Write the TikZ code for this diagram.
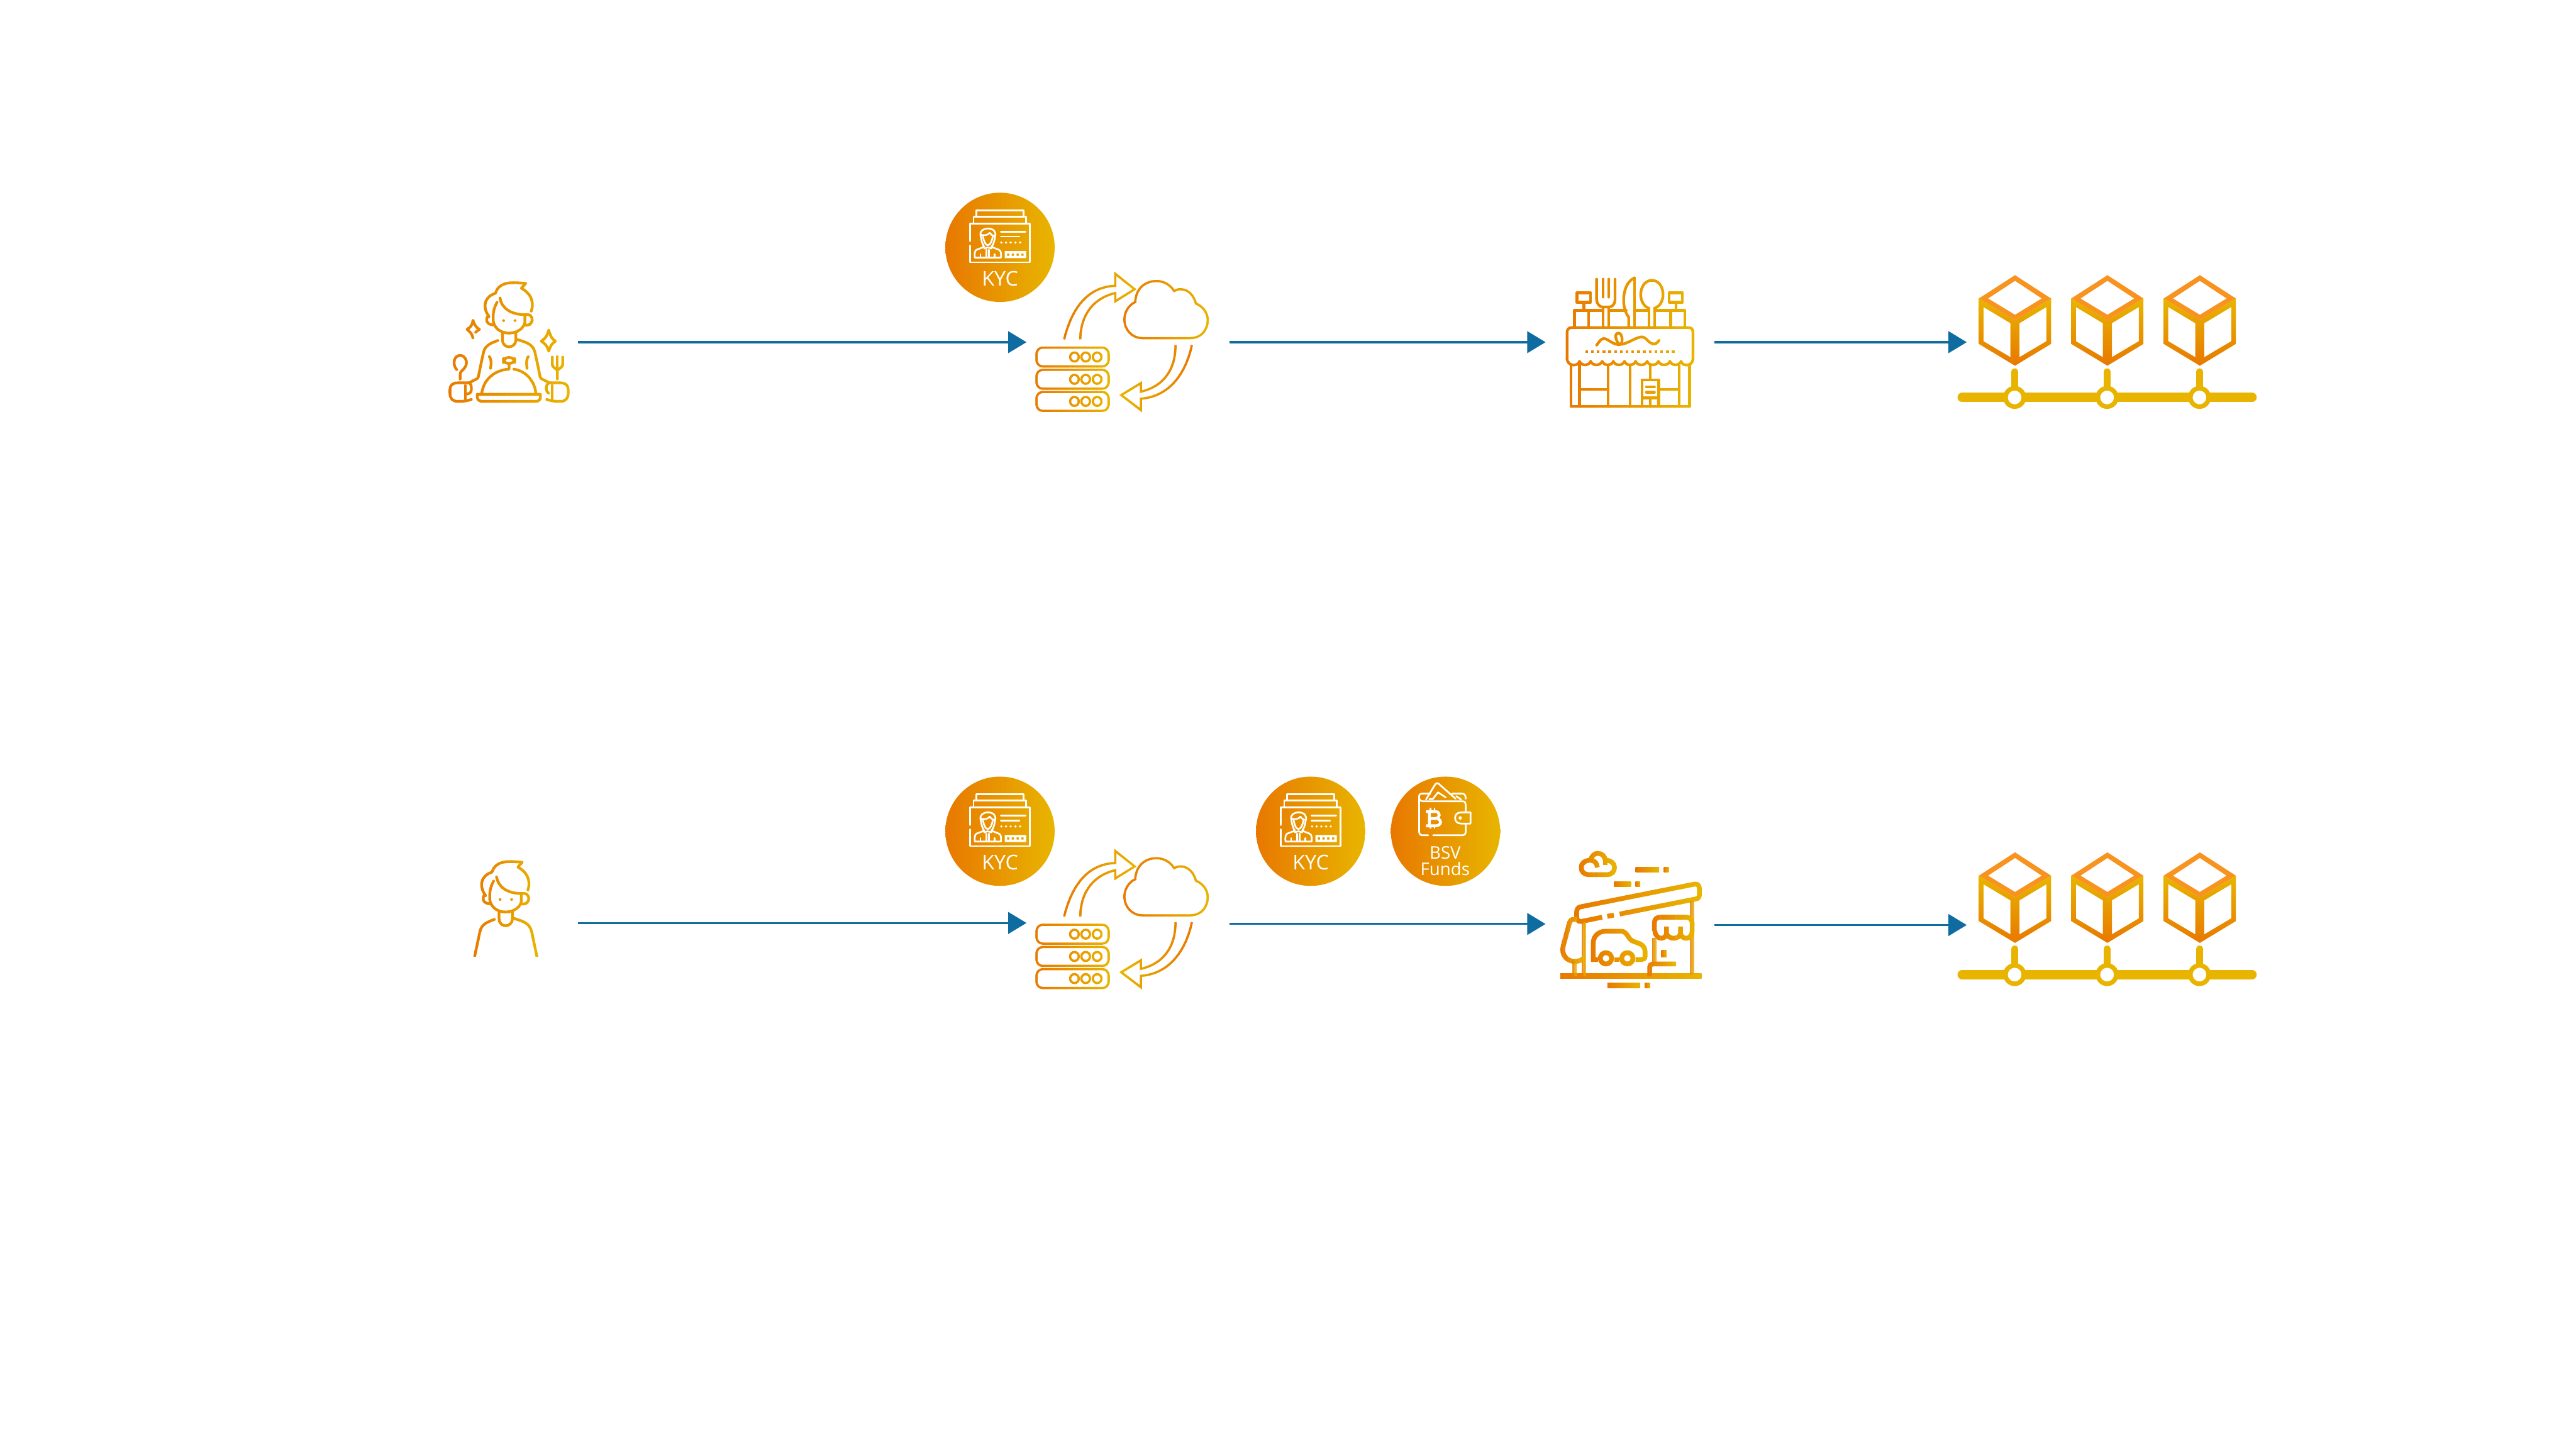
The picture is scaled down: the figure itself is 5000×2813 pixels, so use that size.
\documentclass[tikz,border=0pt]{standalone}
\usepackage{fontspec}
\usetikzlibrary{arrows.meta}
\newfontfamily\badgefont{Open Sans}
\definecolor{gradleft}{HTML}{E87800}
\definecolor{gradright}{HTML}{E8B500}
\definecolor{rhombcol}{HTML}{F7931E}
\definecolor{flowcol}{HTML}{0F6CA0}
\definecolor{barcol}{HTML}{E9B400}
\tikzset{
  crop/.style 2 args={shift={(#1,#2)}, x=0.003333cm, y=-0.003333cm},
  cropwide/.style 2 args={shift={(#1,#2)}, x=0.003827cm, y=-0.003333cm},
  ink/.style={line width=0.052cm, line cap=round, line join=round},
  thinink/.style={line width=0.043cm, line cap=butt, line join=miter, miter limit=10},
  heavyink/.style={line width=0.092cm, line cap=butt, line join=miter},
  whiteline/.style={draw=white, line width=0.033cm, line cap=round, line join=round},
  flow/.style={draw=flowcol, line width=0.04cm, -{Triangle[length=0.356cm, width=0.42cm]}},
  slot/.style={inner sep=0pt, outer sep=0pt, minimum height=0.1cm},
  badge/.style={circle, inner sep=0pt, outer sep=0pt, minimum size=2.12cm, left color=gradleft, right color=gradright},
  badgetext/.style={text=white, inner sep=0pt, anchor=base},
}
% stroke colour running from left to right: paint the drawing once per strip
\newcommand{\gradfrom}{gradleft}
\newcommand{\gradto}{gradright}
\newcommand{\hgrad}[5]{%
  \foreach \n in {0,...,29}{
    \pgfmathsetmacro\mixv{100*(\n+0.5)/30}
    \pgfmathsetmacro\stripx{#1+\n/30*(#2-#1)}
    \pgfmathsetmacro\stripend{#1+(\n+1.2)/30*(#2-#1)}
    \colorlet{inkcol}{\gradto!\mixv!\gradfrom}
    \begin{scope}[color=inkcol]
      \clip (\stripx,#3) rectangle (\stripend,#4);
      #5
    \end{scope}
  }
}
% head and shoulders of the customer
\newcommand{\figurehead}{
  \begin{scope}[ink]
  \draw (635,312) .. controls (655,250) and (625,205) .. (577,178) -- (602,150)
    .. controls (540,145) and (490,140) .. (455,165) .. controls (440,175) and (432,190) .. (425,208)
    .. controls (385,220) and (365,250) .. (365,280) .. controls (365,305) and (375,325) .. (388,345);
  \draw (385,338) .. controls (365,355) and (370,390) .. (412,392);
  \draw (435,260) .. controls (415,295) and (410,330) .. (413,370)
    .. controls (418,405) and (450,440) .. (505,440) .. controls (555,440) and (590,410) .. (597,380) -- (597,335);
  \draw (452,235) .. controls (460,290) and (510,330) .. (590,332) -- (615,332)
    .. controls (640,335) and (650,365) .. (630,385) .. controls (625,392) and (610,395) .. (597,393);
  \fill (473,367) circle [radius=8];
  \fill (540,367) circle [radius=8];
  \draw (467,440) -- (467,480) .. controls (467,510) and (490,520) .. (505,520)
    .. controls (525,520) and (545,505) .. (545,480) -- (545,440);
  \draw (440,483) .. controls (400,498) and (365,510) .. (355,555) -- (325,697);
  \draw (555,478) .. controls (610,495) and (645,505) .. (657,555) -- (687,697);
  \end{scope}
}
% what the diner holds around him
\newcommand{\dinerextras}{
  \begin{scope}[ink]
  % arms and hands
  \draw (325,697) -- (320,705) -- (275,728);
  \draw (687,697) -- (692,705) -- (740,730);
  \draw (285,827) .. controls (260,835) and (230,840) .. (205,838) .. controls (175,838) and (160,820) .. (160,790)
    -- (160,770) .. controls (160,745) and (175,730) .. (205,730) -- (270,730)
    .. controls (285,735) and (285,750) .. (285,770) .. controls (285,790) and (270,795) .. (255,795);
  \draw (250,745) -- (250,825);
  \draw (725,827) .. controls (750,835) and (780,840) .. (805,838) .. controls (835,838) and (850,820) .. (850,790)
    -- (850,770) .. controls (850,745) and (835,730) .. (805,730) -- (740,730)
    .. controls (725,735) and (722,750) .. (722,765) .. controls (722,775) and (728,785) .. (735,790);
  \draw (757,745) -- (757,825);
  % sparkles
  \draw (295,468) .. controls (290,445) and (275,430) .. (260,418) .. controls (280,408) and (292,390) .. (295,365)
    .. controls (300,390) and (315,408) .. (332,418) -- (310,435);
  \draw (737,422) .. controls (742,450) and (755,475) .. (775,487) .. controls (755,500) and (742,520) .. (737,545)
    .. controls (730,520) and (715,500) .. (693,487) .. controls (715,475) and (730,450) .. (737,422) -- cycle;
  % spoon and fork
  \draw (200,653) .. controls (170,620) and (185,570) .. (220,570) .. controls (255,570) and (270,620) .. (240,650)
    .. controls (230,660) and (220,665) .. (220,680) -- (220,708);
  \draw (757,580) -- (757,620) .. controls (757,640) and (775,645) .. (787,655) -- (787,708);
  \draw (787,577) -- (787,655);
  \draw (818,580) -- (818,620) .. controls (818,640) and (800,645) .. (787,655);
  % the dish under its cover
  \draw (345,795) .. controls (355,710) and (420,655) .. (505,650) -- (505,617);
  \draw (533,650) .. controls (600,660) and (655,715) .. (662,795);
  \draw[rounded corners=0.1cm] (472,582) rectangle (538,617);
  \draw (320,797) -- (688,797) -- (688,815) .. controls (688,830) and (675,838) .. (660,838) -- (350,838)
    .. controls (335,838) and (320,830) .. (320,815) -- cycle;
  \draw (390,577) .. controls (400,590) and (403,610) .. (397,645);
  \draw (617,577) .. controls (607,590) and (605,610) .. (610,645);
  \end{scope}
}
% servers swapping data with the cloud
\newcommand{\servercloud}{
  \hgrad{535}{935}{990}{1385}{
    \foreach \yc in {1060,1190,1319}{
      \draw[thinink, rounded corners=0.12cm] (553,\yc-55) rectangle (918,\yc+55);
      \foreach \xc in {745,802,860}
        \draw[thinink] (\xc,\yc) ellipse [x radius=22, y radius=26];
    }
  }
  \hgrad{985}{1435}{605}{965}{
    \draw[thinink] (1090,950) -- (1330,950) .. controls (1390,950) and (1420,900) .. (1420,845)
      .. controls (1420,800) and (1395,765) .. (1360,748) .. controls (1350,700) and (1320,665) .. (1283,665)
      .. controls (1270,665) and (1260,668) .. (1250,675) .. controls (1230,640) and (1200,617) .. (1160,617)
      .. controls (1100,617) and (1055,665) .. (1053,740) .. controls (1020,755) and (998,800) .. (998,840)
      .. controls (998,900) and (1035,950) .. (1090,950) -- cycle;
  }
  \hgrad{680}{1065}{555}{960}{
    \draw[thinink] (693,957) .. controls (730,780) and (810,650) .. (952,645) -- (952,575) -- (1050,665)
      -- (952,735) -- (952,687) .. controls (830,720) and (775,830) .. (775,957);
  }
  \begin{scope}
  \renewcommand{\gradfrom}{gradright}
  \renewcommand{\gradto}{gradleft}
  \hgrad{970}{1350}{985}{1390}{
    \draw[thinink] (1340,990) .. controls (1310,1150) and (1230,1290) .. (1082,1303) -- (1082,1370)
      -- (982,1282) -- (1082,1212) -- (1082,1262) .. controls (1200,1230) and (1257,1130) .. (1257,990);
  }
  \end{scope}
}
% id card badge, round its centre
\newcommand{\kycbadge}[3]{
  \node[badge] (#1) at (#2,#3) {};
  \begin{scope}[shift={(#2,#3)}, x=0.003333cm, y=-0.003333cm, shift={(-432,-398)}]
    \draw[whiteline] (295,218) -- (295,183) -- (568,183) -- (568,218);
    \draw[whiteline] (278,258) -- (278,220) -- (583,220) -- (583,258);
    \draw[whiteline] (258,362) -- (258,260) -- (605,260) -- (605,485) -- (258,485) -- (258,387);
    \draw[whiteline] (320,335) .. controls (308,300) and (340,288) .. (360,288) .. controls (392,288) and (412,305) .. (403,335);
    \draw[whiteline] (322,325) .. controls (340,330) and (360,328) .. (372,313) .. controls (378,322) and (385,328) .. (396,332);
    \draw[whiteline] (333,335) .. controls (338,365) and (348,385) .. (360,385) .. controls (376,385) and (385,360) .. (390,335);
    \draw[whiteline] (320,335) .. controls (324,365) and (332,385) .. (340,395) -- (295,412)
      .. controls (285,418) and (283,430) .. (285,458) -- (437,458) .. controls (440,430) and (437,418) .. (425,412)
      -- (382,395) .. controls (392,385) and (400,360) .. (403,335);
    \draw[whiteline] (340,405) -- (360,398) -- (382,405);
    \draw[whiteline] (354,412) -- (354,455);
    \draw[whiteline] (368,412) -- (368,455);
    \draw[whiteline] (318,455) -- (318,438);
    \draw[whiteline] (400,455) -- (400,438);
    \draw[whiteline] (437,308) -- (580,308);
    \draw[whiteline] (437,335) -- (545,335);
    \foreach \xd in {440,467,494,522,549}
      \fill[white] (\xd,370) circle [radius=7];
    \fill[white, even odd rule] (460,420) rectangle (584,461)
      (473,434) rectangle (487,447) (500,434) rectangle (514,447)
      (528,434) rectangle (542,447) (556,434) rectangle (570,447);
    \node[badgetext, font=\badgefont\fontsize{11.2}{13}\selectfont] (#1label) at (432,622) {KYC};
  \end{scope}
}
% three blocks on their chain
\newcommand{\chainrow}[1]{
  \begin{scope}[crop={3760}{#1}]
    \draw[barcol, line width=0.183cm, line cap=round] (146,815) -- (1836,815);
    \foreach \dx in {0,539,1078}{
      \fill[rhombcol, even odd rule] (454+\dx,102) -- (664+\dx,238) -- (454+\dx,365) -- (243+\dx,238) -- cycle
        (454+\dx,135) -- (610+\dx,238) -- (454+\dx,333) -- (297+\dx,238) -- cycle;
      \shade[top color=gradright, bottom color=gradleft, even odd rule]
        (243+\dx,238) -- (454+\dx,365) -- (664+\dx,238) -- (664+\dx,503) -- (454+\dx,630) -- (243+\dx,503) -- cycle
        (270+\dx,288) -- (427+\dx,382) -- (427+\dx,580) -- (270+\dx,487) -- cycle
        (480+\dx,382) -- (637+\dx,288) -- (637+\dx,487) -- (480+\dx,580) -- cycle;
      \draw[barcol, line width=0.127cm, line cap=round] (452+\dx,664) -- (452+\dx,770);
      \draw[barcol, fill=white, line width=0.09cm] (452+\dx,815) circle [radius=53.4];
    }
  \end{scope}
}
\begin{document}
\begin{tikzpicture}[x=0.01cm, y=-0.01cm]
  \useasboundingbox (0,0) rectangle (5000,2813);
  % what the arrows run between
  \node[slot, minimum width=2.44cm] (diner) at (1000,664) {};
  \node[slot, minimum width=3.935cm] (servers) at (2189.25,664) {};
  \node[slot, minimum width=3.27cm] (restaurant) at (3163.5,664) {};
  \node[slot, minimum width=5.626cm] (blocks) at (4098.85,664) {};
  \node[slot, minimum width=2.44cm] (person) at (1000,1791) {};
  \node[slot, minimum width=3.935cm] (serverstwo) at (2189.25,1791) {};
  \node[slot, minimum width=3.27cm] (garage) at (3163.5,1793) {};
  \node[slot, minimum width=5.626cm] (blockstwo) at (4098.85,1795) {};
  \draw[flow] (diner.east) -- (servers.west);
  \draw[flow] (servers.east) -- (restaurant.west);
  \draw[flow] (restaurant.east) -- (blocks.west);
  \draw[flow] (person.east) -- (serverstwo.west);
  \draw[flow] (serverstwo.east |- garage.west) -- (garage.west);
  \draw[flow] (garage.east |- blockstwo.west) -- (blockstwo.west);
  % the diner
  \begin{scope}[crop={820}{500}]
    \hgrad{140}{870}{130}{860}{\figurehead \dinerextras}
  \end{scope}
  % the person without a table
  \begin{scope}[crop={813.3}{1623.3}]
    \hgrad{310}{705}{130}{700}{\figurehead}
  \end{scope}
  % servers and cloud, both rows
  \begin{scope}[cropwide={1800}{340}]
    \servercloud
  \end{scope}
  \begin{scope}[cropwide={1800}{1460}]
    \servercloud
  \end{scope}
  % badges
  \kycbadge{kycone}{1941}{480}
  \kycbadge{kyctwo}{1941}{1613}
  \kycbadge{kycthree}{2544}{1613}
  \node[badge] (funds) at (2805.7,1613) {};
  \begin{scope}[crop={2400}{1480}]
    \draw[whiteline] (1118,423) -- (1085,423) .. controls (1072,423) and (1065,415) .. (1065,405) -- (1065,198)
      .. controls (1065,185) and (1072,180) .. (1085,180) -- (1130,180);
    \draw[whiteline] (1065,205) .. controls (1067,218) and (1075,225) .. (1085,225) -- (1320,225)
      .. controls (1332,225) and (1337,235) .. (1337,245) -- (1337,290);
    \draw[whiteline] (1337,355) -- (1337,405) .. controls (1337,415) and (1330,423) .. (1320,423) -- (1147,423);
    \draw[whiteline] (1258,180) -- (1315,180) .. controls (1330,180) and (1337,190) .. (1337,210);
    \draw[whiteline] (1105,215) -- (1160,125) .. controls (1165,118) and (1172,118) .. (1178,122) -- (1278,210);
    \draw[whiteline] (1125,212) -- (1145,212) -- (1175,173) -- (1220,202);
    \draw[whiteline] (1282,195) -- (1310,215);
    \draw[whiteline] (1365,290) -- (1310,290) .. controls (1285,290) and (1275,305) .. (1275,322)
      .. controls (1275,340) and (1285,355) .. (1310,355) -- (1365,355) -- cycle;
    \draw[whiteline] (1305,322) circle [radius=6];
    % the coin sign
    \draw[whiteline, line width=0.055cm, line cap=butt, line join=miter]
      (1125,285) -- (1125,368)
      (1105,285) -- (1160,285) .. controls (1190,285) and (1190,325) .. (1160,325) -- (1125,325)
      (1160,325) .. controls (1200,325) and (1200,368) .. (1160,368) -- (1105,368);
    \draw[whiteline, line width=0.035cm, line cap=butt]
      (1130,262) -- (1130,285) (1155,262) -- (1155,285) (1130,368) -- (1130,385) (1155,368) -- (1155,385);
    \node[badgetext, font=\badgefont\fontsize{9.6}{12}\selectfont] (bsvlabel) at (1217,560) {BSV};
    \node[badgetext, font=\badgefont\fontsize{9.6}{12}\selectfont] (fundslabel) at (1217,657) {Funds};
  \end{scope}
  % the restaurant
  \begin{scope}[crop={2980}{500}]
    \hgrad{170}{935}{100}{885}{
      \begin{scope}[ink]
      \draw (243,205) rectangle (323,260);
      \draw (283,260) -- (283,308);
      \draw (780,205) rectangle (858,260);
      \draw (820,260) -- (820,308);
      \draw (228,405) -- (228,308) -- (395,308);
      \draw (310,308) -- (310,405);
      \draw (395,290) -- (395,405);
      \draw (428,290) -- (428,405);
      \draw (428,308) -- (530,308);
      \draw (358,125) -- (358,245) .. controls (358,270) and (375,288) .. (395,288) -- (428,288)
        .. controls (450,288) and (465,270) .. (465,245) -- (465,125);
      \draw (395,125) -- (395,230);
      \draw (428,125) -- (428,230);
      \draw (578,118) -- (578,405);
      \draw (578,118) .. controls (530,140) and (515,200) .. (515,250) .. controls (515,290) and (530,330) .. (545,347) -- (545,405);
      \draw (578,308) -- (662,308);
      \draw (662,295) -- (662,405);
      \draw (695,295) -- (695,405);
      \draw (662,295) .. controls (635,285) and (615,255) .. (615,215) .. controls (615,165) and (645,132) .. (680,132)
        .. controls (715,132) and (745,165) .. (745,215) .. controls (745,255) and (725,285) .. (695,295);
      \draw (695,308) -- (873,308) -- (873,405);
      \draw (790,308) -- (790,405);
      % awning
      \draw (185,592) -- (185,435) .. controls (185,420) and (195,408) .. (210,408) -- (895,408)
        .. controls (912,408) and (920,420) .. (920,435) -- (920,592);
      \draw (185,592) .. controls (190,635) and (250,635) .. (258,605);
      \foreach \xa/\xb in {258/323,323/390,390/455,455/520,520/585,585/652,652/718,718/785,785/850}
        \draw (\xa,605) .. controls (\xa+12,632) and (\xb-12,632) .. (\xb,605);
      \draw (850,605) .. controls (858,635) and (915,635) .. (920,592);
      \foreach \k in {0,...,15}
        \fill (291+\k*33.7,540) rectangle ++(16,16);
      \draw (358,510) .. controls (375,485) and (390,465) .. (410,473) .. controls (435,485) and (455,505) .. (490,508)
        .. controls (515,505) and (510,440) .. (485,440) .. controls (460,440) and (465,480) .. (490,505)
        .. controls (530,510) and (580,465) .. (620,462) .. controls (650,462) and (660,505) .. (695,503)
        .. controls (710,500) and (715,490) .. (722,483);
      % front
      \draw (207,625) -- (207,868) -- (900,868) -- (900,625);
      \draw (258,625) -- (258,868);
      \draw (425,625) -- (425,868);
      \draw (553,625) -- (553,868);
      \draw (838,625) -- (838,868);
      \draw (258,767) -- (425,767);
      \draw (720,767) -- (838,767);
      \draw (670,625) -- (670,712);
      \draw (622,712) rectangle (720,818);
      \draw (648,753) -- (695,753);
      \draw (648,785) -- (695,785);
      \draw (622,818) -- (622,868);
      \draw (670,818) -- (670,868);
      \draw (720,818) -- (720,868);
      \end{scope}
    }
  \end{scope}
  % the garage, each part with its own run of colour
  \begin{scope}[crop={2980}{1630}]
    \foreach \xa/\ya/\xb/\yb in {585/160/722/188,750/160/778/188,460/243/558/271,585/243/612/271,
        420/835/612/862,640/835/668/862,145/780/970/808,735/642/765/684}
      \shade[left color=gradleft, right color=gradright] (\xa,\ya) rectangle (\xb,\yb);
    \hgrad{250}{478}{60}{220}{
      \draw[heavyink] (362,160) .. controls (360,135) and (345,118) .. (322,118) .. controls (290,118) and (268,135) .. (268,160)
        .. controls (268,185) and (285,202) .. (310,202) -- (420,202) .. controls (445,202) and (462,185) .. (462,160)
        .. controls (462,135) and (440,118) .. (408,118) .. controls (405,95) and (390,78) .. (365,78)
        .. controls (345,78) and (330,90) .. (322,118);
      \draw[heavyink] (408,118) -- (408,147);
    }
    \hgrad{225}{972}{240}{490}{
      \draw[heavyink] (492,432) -- (930,345) .. controls (948,343) and (957,335) .. (957,320) -- (957,285)
        .. controls (957,268) and (948,255) .. (930,257) -- (262,390) .. controls (250,392) and (241,405) .. (241,420)
        -- (241,445) .. controls (241,465) and (250,478) .. (270,475) -- (390,450);
      \draw[heavyink] (420,445) -- (458,438);
    }
    \hgrad{268}{298}{478}{795}{\draw[heavyink] (283,478) -- (283,795);}
    \hgrad{900}{930}{355}{782}{\draw[heavyink] (915,355) -- (915,782);}
    \hgrad{145}{298}{448}{725}{
      \draw[heavyink] (245,463) -- (225,463) .. controls (210,463) and (203,470) .. (200,480) -- (162,620)
        .. controls (150,670) and (185,708) .. (230,708) .. controls (255,708) and (272,700) .. (285,685);
    }
    \hgrad{214}{243}{708}{795}{\draw[heavyink] (228,708) -- (228,795);}
    \hgrad{322}{655}{515}{740}{
      \draw[heavyink] (365,697) -- (338,697) -- (338,600) .. controls (338,560) and (370,532) .. (410,532) -- (500,532)
        .. controls (520,532) and (530,545) .. (540,560) .. controls (550,575) and (555,585) .. (575,592) -- (610,605)
        .. controls (630,615) and (640,630) .. (640,650) -- (640,680) .. controls (640,692) and (630,697) .. (620,697) -- (585,697);
      \draw[heavyink] (460,697) -- (490,697);
      \draw[heavyink] (412,690) circle [radius=33];
      \draw[heavyink] (537,690) circle [radius=33];
    }
    \hgrad{680}{930}{435}{590}{
      \draw[heavyink] (695,530) -- (695,480) .. controls (695,460) and (710,450) .. (730,450) -- (880,450)
        .. controls (900,450) and (915,465) .. (915,485) -- (915,530);
      \draw[heavyink] (697,530) .. controls (700,560) and (720,573) .. (735,573) .. controls (750,573) and (765,560) .. (765,545) -- (765,505);
      \draw[heavyink] (765,545) .. controls (770,563) and (790,573) .. (807,573) .. controls (825,573) and (845,563) .. (847,545) -- (847,505);
      \draw[heavyink] (847,545) .. controls (850,563) and (865,573) .. (880,573) .. controls (900,573) and (915,555) .. (915,530);
    }
    \hgrad{680}{710}{570}{725}{\draw[heavyink] (695,570) -- (695,725);}
    \hgrad{653}{820}{708}{795}{
      \draw[heavyink] (667,795) -- (667,740) .. controls (667,730) and (675,723) .. (685,723) -- (820,723);
    }
  \end{scope}
  % the chains
  \chainrow{500}
  \chainrow{1620}
\end{tikzpicture}
\end{document}
